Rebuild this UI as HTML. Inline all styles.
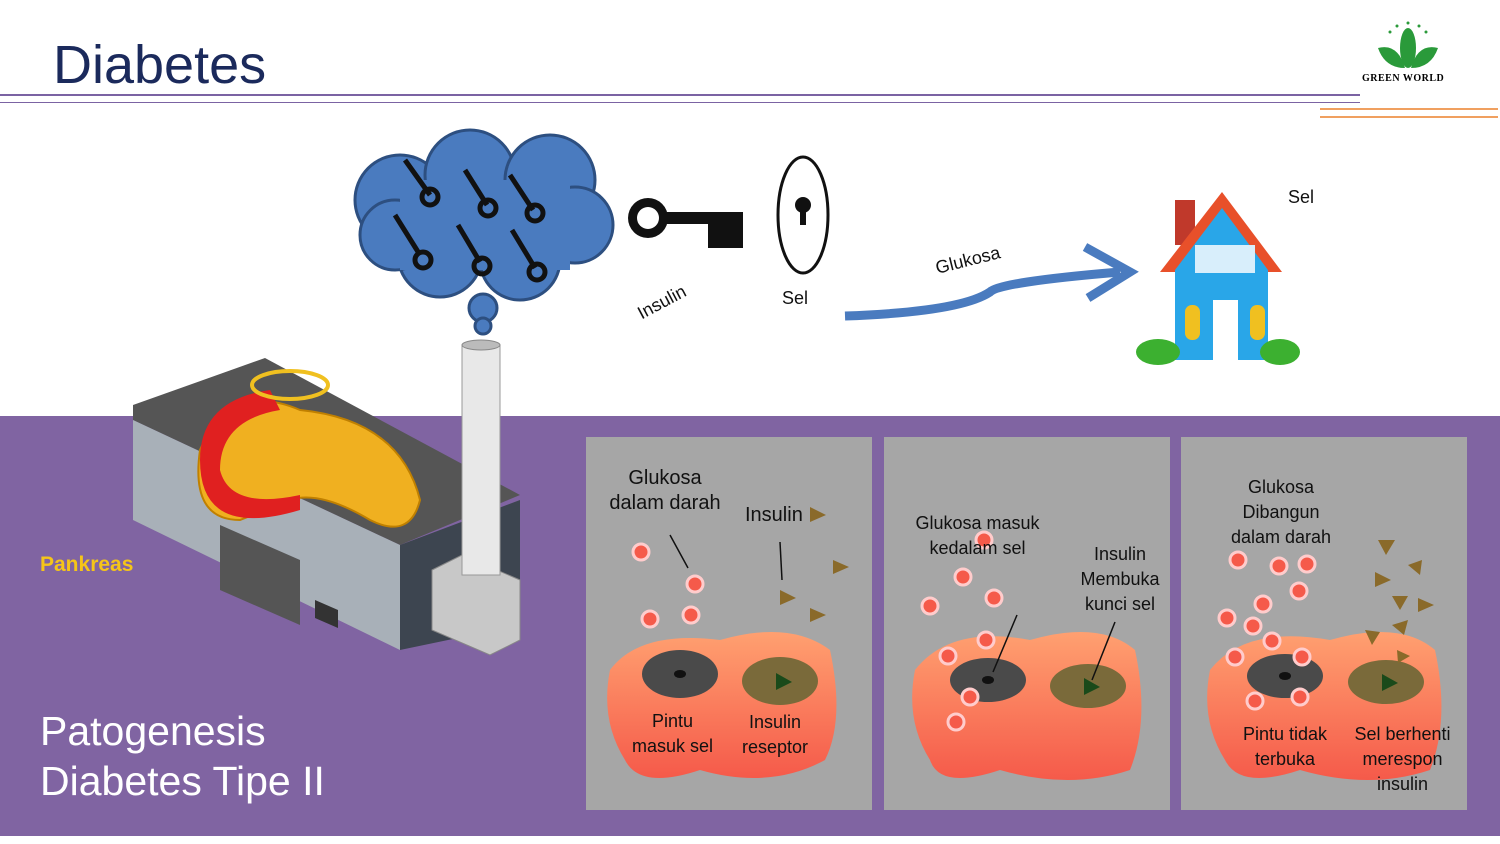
<!DOCTYPE html><html><head><style>
body{margin:0;width:1500px;height:844px;overflow:hidden;background:#fff;font-family:"Liberation Sans",sans-serif;position:relative}
.a{position:absolute}
.t{position:absolute;font-size:18px;color:#111;text-align:center;line-height:25px}
.p{position:absolute;background:#a6a6a6;top:437px;height:373px;width:286px}
</style></head><body>
<div class="a" style="left:53px;top:34px;font-size:54px;color:#1b2a5c">Diabetes</div>
<div class="a" style="left:0;top:94px;width:1360px;height:2px;background:#7b63a3"></div>
<div class="a" style="left:0;top:102px;width:1360px;height:1px;background:#7b63a3"></div>
<div class="a" style="left:1320px;top:108px;width:178px;height:2px;background:#f0a060"></div>
<div class="a" style="left:1320px;top:116px;width:178px;height:2px;background:#f0a060"></div>
<svg class="a" style="left:1373px;top:18px" width="70" height="55"><g fill="#2a9a3a"><ellipse cx="35" cy="30" rx="8" ry="20"/><path d="M5 30 Q25 25 32 50 Q12 50 5 30Z"/><path d="M65 30 Q45 25 38 50 Q58 50 65 30Z"/><circle cx="24" cy="8" r="1.5"/><circle cx="35" cy="5" r="1.5"/><circle cx="46" cy="8" r="1.5"/><circle cx="17" cy="14" r="1.5"/><circle cx="53" cy="14" r="1.5"/></g></svg>
<div class="a" style="left:1362px;top:73px;font-family:'Liberation Serif',serif;font-weight:bold;font-size:10px;letter-spacing:0.5px">GREEN WORLD</div>

<div class="a" style="left:0;top:416px;width:1500px;height:420px;background:#8064a2"></div>

<svg class="a" style="left:0;top:0" width="1500" height="844">
<g fill="#4a7bbf" stroke="#2d4f80" stroke-width="3">
<circle cx="400" cy="200" r="45"/><circle cx="470" cy="175" r="45"/><circle cx="550" cy="180" r="45"/><circle cx="575" cy="225" r="38"/><circle cx="520" cy="260" r="40"/><circle cx="440" cy="255" r="42"/><circle cx="395" cy="235" r="35"/>
<circle cx="483" cy="308" r="14"/><circle cx="483" cy="326" r="8"/>
</g>
<rect x="400" y="180" width="170" height="90" fill="#4a7bbf"/>
<g stroke="#111" stroke-width="5" fill="none">
<path d="M405 160 L430 195"/><circle cx="430" cy="197" r="8"/>
<path d="M465 170 L487 205"/><circle cx="488" cy="208" r="8"/>
<path d="M510 175 L533 210"/><circle cx="535" cy="213" r="8"/>
<path d="M395 215 L420 255"/><circle cx="423" cy="260" r="8"/>
<path d="M458 225 L480 262"/><circle cx="482" cy="266" r="8"/>
<path d="M512 230 L535 268"/><circle cx="537" cy="272" r="8"/>
</g>
<g fill="#111"><circle cx="648" cy="218" r="20"/><rect x="665" y="212" width="78" height="12"/><rect x="708" y="224" width="35" height="24"/></g>
<circle cx="648" cy="218" r="11" fill="#fff"/>
<ellipse cx="803" cy="215" rx="25" ry="58" fill="#fff" stroke="#111" stroke-width="3"/>
<circle cx="803" cy="205" r="8" fill="#111"/><rect x="800" y="205" width="6" height="20" fill="#111"/>
<path d="M845 316 Q960 312 990 292 Q1000 282 1120 272" stroke="#4a7bbf" stroke-width="9" fill="none"/>
<path d="M1085 247 L1130 272 L1088 298" stroke="#4a7bbf" stroke-width="9" fill="none"/>
<rect x="1175" y="200" width="20" height="45" fill="#c0392b"/>
<polygon points="1160,272 1222,192 1282,272" fill="#e8502a"/>
<polygon points="1175,270 1222,208 1268,270 1268,360 1175,360" fill="#29a6e8"/>
<rect x="1195" y="245" width="60" height="28" fill="#d8eefb"/>
<rect x="1213" y="300" width="25" height="60" fill="#fff"/>
<rect x="1185" y="305" width="15" height="35" fill="#f0c020" rx="7"/><rect x="1250" y="305" width="15" height="35" fill="#f0c020" rx="7"/>
<ellipse cx="1158" cy="352" rx="22" ry="13" fill="#3cb030"/><ellipse cx="1280" cy="352" rx="20" ry="13" fill="#3cb030"/>
<!-- factory -->
<polygon points="133,405 265,358 520,495 400,545 133,420" fill="#555"/>
<polygon points="133,420 400,545 400,650 133,520" fill="#a8b0b8"/>
<polygon points="400,545 520,500 520,625 400,650" fill="#3d4550"/>
<polygon points="220,525 300,560 300,625 220,590" fill="#555"/>
<polygon points="315,600 338,610 338,628 315,618" fill="#333"/>
<polygon points="432,570 462,555 520,580 520,640 490,655 432,630" fill="#c8c8c8" stroke="#888"/>
<polygon points="462,345 500,345 500,575 462,575" fill="#e8e8e8" stroke="#999"/>
<ellipse cx="481" cy="345" rx="19" ry="5" fill="#bbb" stroke="#888"/>
<path d="M200 450 Q230 380 300 410 Q400 420 420 500 Q410 540 370 520 Q320 490 290 500 L240 520 Q190 520 200 450Z" fill="#f0b020" stroke="#c08000" stroke-width="2"/>
<path d="M200 460 Q200 400 270 390 L280 410 Q220 420 220 470 Q230 510 300 495 L300 510 Q200 540 200 460Z" fill="#e02020"/>
<ellipse cx="290" cy="385" rx="38" ry="14" fill="none" stroke="#f0c020" stroke-width="4"/>
</svg>
<div class="a" style="left:40px;top:553px;color:#f5c518;font-weight:bold;font-size:21px">Pankreas</div>
<div class="a" style="left:40px;top:706px;color:#fff;font-size:41px;line-height:50px">Patogenesis<br>Diabetes Tipe II</div>
<div class="t" style="left:636px;top:290px;transform:rotate(-28deg)">Insulin</div>
<div class="t" style="left:782px;top:286px">Sel</div>
<div class="t" style="left:935px;top:248px;transform:rotate(-14deg)">Glukosa</div>
<div class="t" style="left:1288px;top:185px">Sel</div>

<div class="p" style="left:586px"></div><div class="p" style="left:884px"></div><div class="p" style="left:1181px"></div>
<svg class="a" style="left:0;top:0" width="1500" height="844">
<defs><linearGradient id="g" x1="0" y1="0" x2="0" y2="1"><stop offset="0" stop-color="#ffa070"/><stop offset="1" stop-color="#f55a4a"/></linearGradient></defs>
<g fill="url(#g)">
<path d="M610 670 Q640 630 720 640 Q790 620 830 650 Q845 720 825 760 Q770 790 700 770 Q640 790 625 760 Q600 720 610 670Z"/>
<path d="M915 670 Q950 625 1030 640 Q1100 620 1135 650 Q1150 720 1130 770 Q1070 790 1000 770 Q940 790 930 760 Q905 720 915 670Z"/>
<path d="M1210 670 Q1245 625 1330 640 Q1400 620 1435 650 Q1450 720 1430 770 Q1370 790 1300 770 Q1240 790 1225 760 Q1200 720 1210 670Z"/>
</g>
<g fill="#4a4a4a"><ellipse cx="680" cy="674" rx="38" ry="24"/><ellipse cx="988" cy="680" rx="38" ry="22"/><ellipse cx="1285" cy="676" rx="38" ry="22"/></g>
<g fill="#7a6a3a"><ellipse cx="780" cy="681" rx="38" ry="24"/><ellipse cx="1088" cy="686" rx="38" ry="22"/><ellipse cx="1386" cy="682" rx="38" ry="22"/></g>
<g fill="#111"><ellipse cx="680" cy="674" rx="6" ry="4"/><ellipse cx="988" cy="680" rx="6" ry="4"/><ellipse cx="1285" cy="676" rx="6" ry="4"/></g>
<g fill="#1a4a1a"><path d="M776 673 L792 682 L776 690Z"/><path d="M1084 678 L1100 687 L1084 695Z"/><path d="M1382 674 L1398 683 L1382 691Z"/></g>
<g fill="#f55a4a" stroke="#fcc" stroke-width="3">
<circle cx="641" cy="552" r="8"/><circle cx="695" cy="584" r="8"/><circle cx="650" cy="619" r="8"/><circle cx="691" cy="615" r="8"/>
<circle cx="984" cy="540" r="8"/><circle cx="963" cy="577" r="8"/><circle cx="994" cy="598" r="8"/><circle cx="930" cy="606" r="8"/><circle cx="986" cy="640" r="8"/><circle cx="948" cy="656" r="8"/><circle cx="970" cy="697" r="8"/><circle cx="956" cy="722" r="8"/>
<circle cx="1238" cy="560" r="8"/><circle cx="1279" cy="566" r="8"/><circle cx="1307" cy="564" r="8"/><circle cx="1299" cy="591" r="8"/><circle cx="1263" cy="604" r="8"/><circle cx="1227" cy="618" r="8"/><circle cx="1253" cy="626" r="8"/><circle cx="1272" cy="641" r="8"/><circle cx="1235" cy="657" r="8"/><circle cx="1302" cy="657" r="8"/><circle cx="1255" cy="701" r="8"/><circle cx="1300" cy="697" r="8"/>
</g>
<g fill="#8a6a2a">
<path d="M810 507 L826 515 L810 522Z"/><path d="M833 560 L849 567 L833 574Z"/><path d="M780 590 L796 598 L780 605Z"/><path d="M810 608 L826 615 L810 622Z"/>
<path d="M1378 540 L1395 540 L1386 555Z"/><path d="M1408 565 L1422 560 L1420 575Z"/><path d="M1375 572 L1391 580 L1375 587Z"/><path d="M1392 596 L1408 596 L1400 610Z"/><path d="M1418 598 L1434 605 L1418 612Z"/><path d="M1365 630 L1380 632 L1372 645Z"/><path d="M1392 625 L1408 620 L1404 635Z"/><path d="M1397 650 L1410 656 L1398 663Z"/>
</g>
<g stroke="#111" stroke-width="1.5"><path d="M670 535 L688 568"/><path d="M780 542 L782 580"/><path d="M1017 615 L993 672"/><path d="M1115 622 L1092 680"/></g>
</svg>
<div class="t" style="left:600px;top:466px;width:130px;font-size:20px">Glukosa<br>dalam darah</div>
<div class="t" style="left:745px;top:503px;font-size:20px">Insulin</div>
<div class="t" style="left:625px;top:709px;width:95px">Pintu<br>masuk sel</div>
<div class="t" style="left:730px;top:710px;width:90px">Insulin<br>reseptor</div>
<div class="t" style="left:905px;top:511px;width:145px">Glukosa masuk<br>kedalam sel</div>
<div class="t" style="left:1070px;top:542px;width:100px">Insulin<br>Membuka<br>kunci sel</div>
<div class="t" style="left:1220px;top:475px;width:122px">Glukosa<br>Dibangun<br>dalam darah</div>
<div class="t" style="left:1230px;top:722px;width:110px">Pintu tidak<br>terbuka</div>
<div class="t" style="left:1345px;top:722px;width:115px">Sel berhenti<br>merespon<br>insulin</div>
</body></html>
